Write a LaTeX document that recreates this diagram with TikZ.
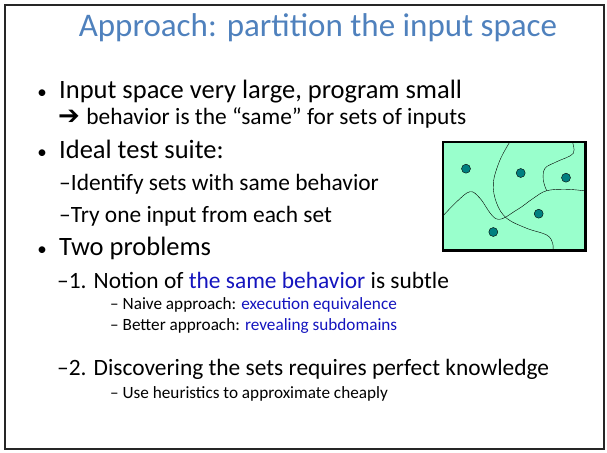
\documentclass[tikz,border=0pt]{standalone}
\usepackage{fontspec}
\setmainfont{Carlito}
\newfontfamily\arrowfont{DejaVu Sans}
\usetikzlibrary{positioning}
\definecolor{titleblue}{RGB}{79,129,189}
\definecolor{hiblue}{RGB}{20,20,190}
\definecolor{setgreen}{RGB}{153,255,204}
\definecolor{dotteal}{RGB}{0,128,128}
\tikzset{
x=1pt, y=-1pt, % one unit is one pixel of the slide, y runs down
every node/.style={inner sep=0pt, anchor=base west}, % text sits on its baseline
lvltitle/.style={font=\fontsize{33}{40}\selectfont, text=titleblue}, % slide title
lvlone/.style={font=\fontsize{26.5}{32}\selectfont}, % first level bullets
lvlmark/.style={font=\fontsize{19}{24}\selectfont}, % the bullet itself
lvltwo/.style={font=\fontsize{23.4}{28}\selectfont}, % second level
lvlthree/.style={font=\fontsize{17.2}{20}\selectfont}, % third level
setbox/.style={draw=black, line width=1.5pt, fill=setgreen, minimum width=142pt, minimum height=108pt, anchor=center}, % the input space
setdot/.style={circle, draw=black, thin, fill=dotteal, minimum size=9pt, anchor=center}, % one chosen input
}

\begin{document}
\begin{tikzpicture}
    \useasboundingbox (0,0) rectangle (607,452);
    \draw[black!85, line width=1.5pt] (5,5) rectangle (604,449);
    \node[lvltitle, anchor=base] (title) at (318,37) {Approach: partition the input space};
    \node[lvlone] (in1) at (59,98) {Input space very large, program small};
    \node[lvlmark, base left=12pt of in1] (b1) {\textbullet};
    \node[lvltwo, font=\fontsize{26}{28}\selectfont] (arr) at (58,124) {\arrowfont ➔};
    \node[lvltwo, base right=6pt of arr] (beh) {behavior is the “same” for sets of inputs};
    \node[lvlone] (in2) at (59,158) {Ideal test suite:};
    \node[lvlmark, base left=12pt of in2] (b2) {\textbullet};
    \node[lvltwo] (sub1) at (59,190) {–Identify sets with same behavior};
    \node[lvltwo] (sub2) at (59,222) {–Try one input from each set};
    \node[lvlone] (in3) at (59,255) {Two problems};
    \node[lvlmark, base left=12pt of in3] (b3) {\textbullet};
    \node[lvltwo] (p1) at (57,288) {–1. Notion of \textcolor{hiblue}{the same behavior} is subtle};
    \node[lvlthree] (p1a) at (110,309) {– Naive approach: \textcolor{hiblue}{execution equivalence}};
    \node[lvlthree] (p1b) at (110,330) {– Better approach: \textcolor{hiblue}{revealing subdomains}};
    \node[lvltwo] (p2) at (57,375) {–2. Discovering the sets requires perfect knowledge};
    \node[lvlthree] (p2a) at (110,398) {– Use heuristics to approximate cheaply};
    % the partitioned input space
    \node[setbox] (space) at (514,196) {};
    \begin{scope}[thin]
      \clip (space.south west) rectangle (space.north east);
      \draw plot[smooth, tension=0.6] coordinates {(511,140) (500,160) (493.3,183.3) (496.7,203.3) (506.7,218.3) (526.7,228.3) (546.7,235) (552.7,243.3) (552.7,252)};
      \draw plot[smooth, tension=0.6] coordinates {(442,217) (456.7,201.7) (470,191.7) (480,198.3) (496.7,219) (516.7,210) (533.3,198.3) (546.7,190.7) (566.7,189.3) (586,191)};
      \draw plot[smooth, tension=0.6] coordinates {(571.7,140) (573.3,153.3) (556.7,161.7) (545,168.3) (543.3,180) (546.7,190.7)};
    \end{scope}
    \draw[black, line width=1.5pt] (space.south west) rectangle (space.north east);
    \node[setdot] (d1) at (466,168.7) {};
    \node[setdot] (d2) at (520.7,173) {};
    \node[setdot] (d3) at (566,177.7) {};
    \node[setdot] (d4) at (538.7,213.7) {};
    \node[setdot] (d5) at (493.3,232) {};
\end{tikzpicture}
\end{document}
